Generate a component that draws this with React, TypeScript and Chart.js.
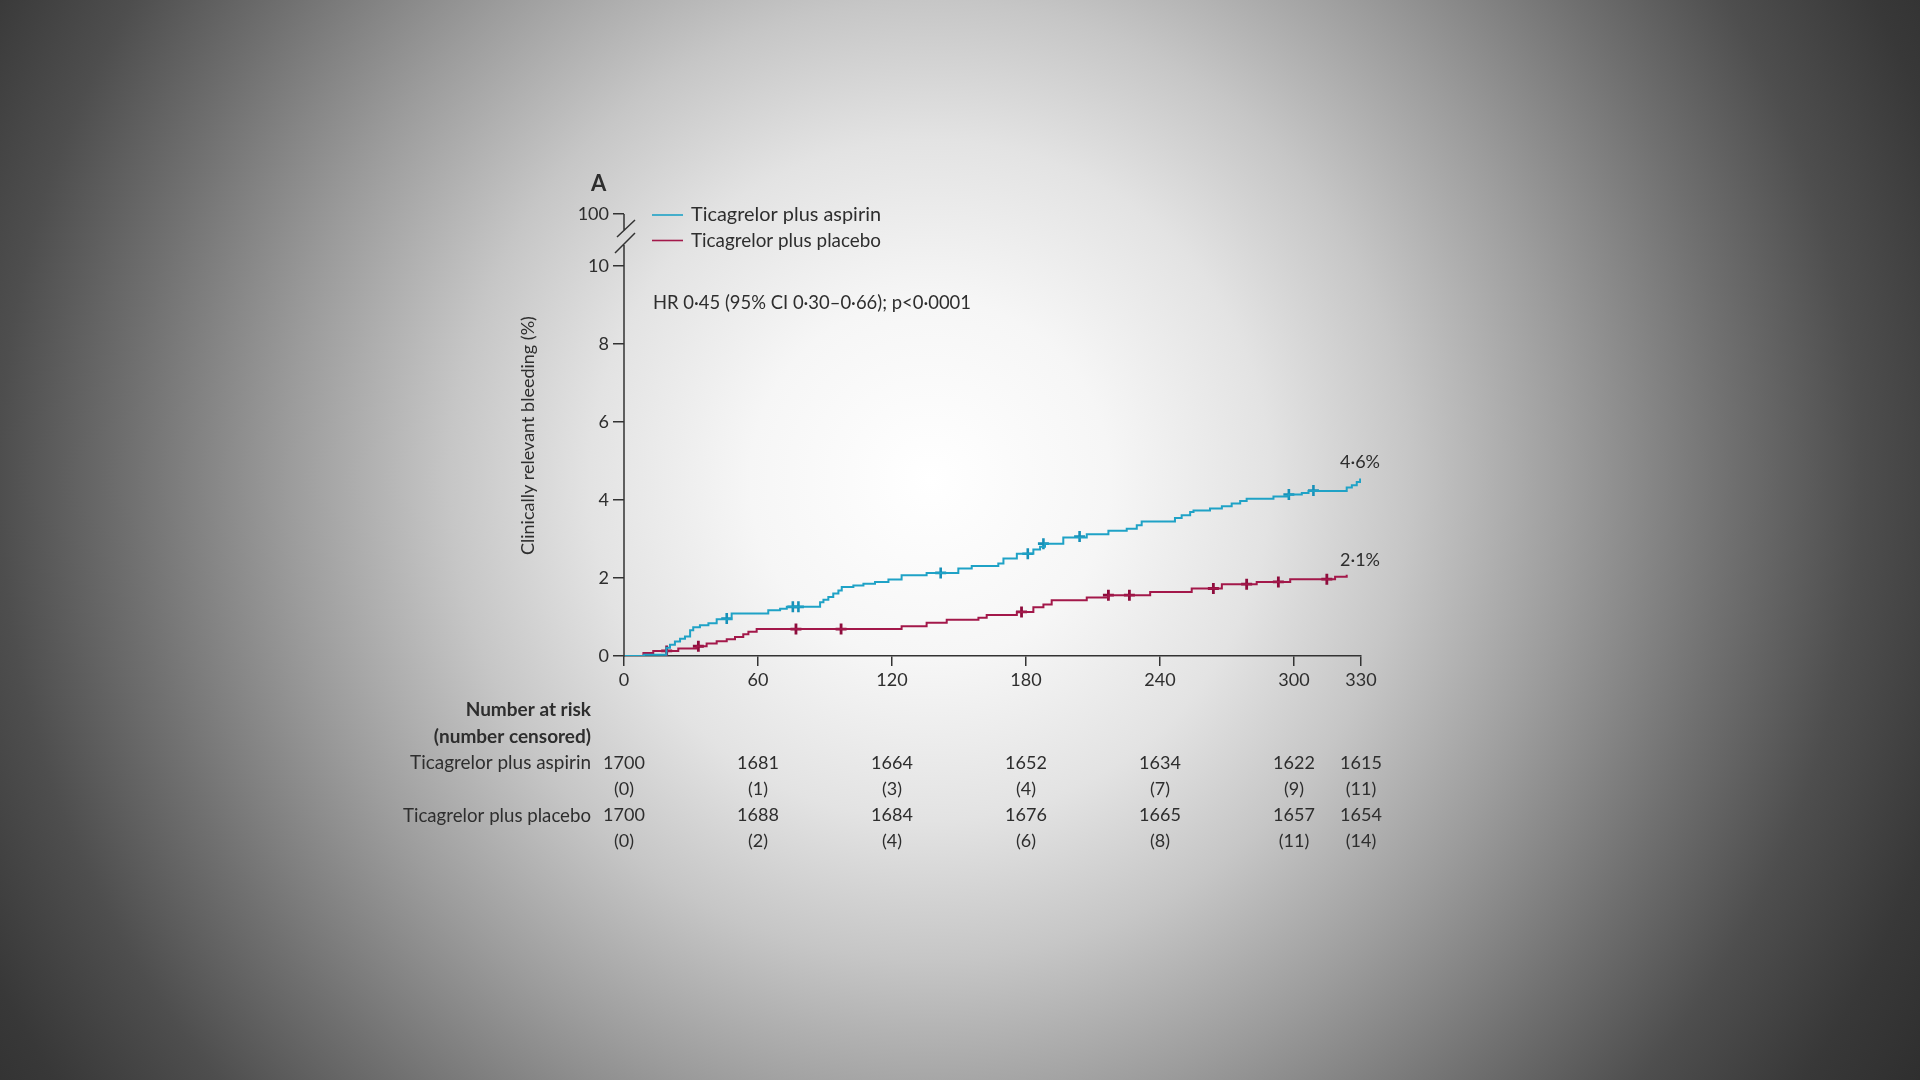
import React, { useEffect, useRef } from "react";
import { Chart, registerables } from "chart.js";

Chart.register(...registerables);

// ---------- data ----------
const xTicks = [0, 60, 120, 180, 240, 300, 330];
const yTicks = [0, 2, 4, 6, 8, 10];
const yBreakValue = 11.33; // where the "100" tick sits above the axis break
const yBreakLabel = "100";

const seriesNames = ["Ticagrelor plus aspirin", "Ticagrelor plus placebo"];

const aspirinDays = [0, 9, 19, 20.6, 22.8, 25.1, 27.3, 29.6, 31, 34, 37.8, 41.5, 48.2, 64.6, 69.9, 72.9, 87.8, 89.3, 91.5, 93.7, 96, 97.5, 102.7, 107.2, 112.4, 118.4, 124.3, 135.5, 149.7, 155.7, 167.6, 169.9, 175.9, 183.3, 186.3, 188.5, 196.7, 207.2, 216.9, 225.1, 229.6, 231.8, 246.7, 249.7, 253.5, 255, 262.4, 267.7, 272.1, 275.9, 278.8, 290.8, 297.5, 303.5, 306.5, 323.6, 325.9, 328.1, 329.6];
const aspirinPct = [0, 0.03, 0.21, 0.29, 0.37, 0.44, 0.5, 0.66, 0.74, 0.79, 0.84, 0.94, 1.09, 1.17, 1.21, 1.26, 1.38, 1.44, 1.51, 1.6, 1.68, 1.77, 1.81, 1.85, 1.9, 1.96, 2.07, 2.13, 2.24, 2.31, 2.37, 2.5, 2.62, 2.73, 2.8, 2.88, 3.04, 3.12, 3.21, 3.26, 3.35, 3.45, 3.54, 3.61, 3.69, 3.73, 3.78, 3.84, 3.91, 3.97, 4.03, 4.09, 4.14, 4.18, 4.23, 4.32, 4.38, 4.46, 4.55];

const placeboDays = [0, 8.7, 13.1, 24.3, 32.5, 37, 41.5, 46, 49.7, 53.4, 55.7, 59.4, 124.3, 135.5, 144.5, 158.7, 162.4, 175.9, 183.3, 187.8, 191.5, 207.2, 216.9, 235.6, 254.2, 267.7, 283.3, 298.3, 318.4, 323.6];
const placeboPct = [0, 0.08, 0.13, 0.19, 0.25, 0.32, 0.38, 0.43, 0.49, 0.56, 0.62, 0.69, 0.76, 0.85, 0.93, 0.98, 1.05, 1.13, 1.25, 1.32, 1.43, 1.5, 1.56, 1.64, 1.73, 1.84, 1.9, 1.97, 2.03, 2.08];

const aspirinCensorDays = [46, 75.6, 78.1, 141.8, 180.8, 187.8, 204, 297.7, 308.7];
const aspirinCensorPct = [0.96, 1.26, 1.26, 2.13, 2.62, 2.88, 3.06, 4.14, 4.24];

const placeboCensorDays = [19.1, 33.3, 77, 97.2, 178, 216.9, 226.3, 263.9, 278.8, 293, 314.7];
const placeboCensorPct = [0.13, 0.25, 0.69, 0.69, 1.13, 1.56, 1.56, 1.73, 1.84, 1.9, 1.97];

const endLabels = ["4·6%", "2·1%"];
const hrText = "HR 0·45 (95% CI 0·30–0·66); p<0·0001";
const hrLevel = 9.04; // vertical position of the HR annotation, in axis units
const yTitle = "Clinically relevant bleeding (%)";
const panelLabel = "A";

const riskTitle = ["Number at risk", "(number censored)"];
const aspirinAtRisk = [1700, 1681, 1664, 1652, 1634, 1622, 1615];
const aspirinCensored = [0, 1, 3, 4, 7, 9, 11];
const placeboAtRisk = [1700, 1688, 1684, 1676, 1665, 1657, 1654];
const placeboCensored = [0, 2, 4, 6, 8, 11, 14];

// ---------- style ----------
const CYAN = "#1fa2c6";
const CYAN_MARK = "#1690b8";
const RED = "#a3184a";
const RED_MARK = "#8e0c3c";
const INK = "#2e2e2e";
const AXIS = "#333333";
const FONT = "Lato, 'DejaVu Sans', sans-serif";

const toPts = (xs: number[], ys: number[]) => xs.map((x, i) => ({ x, y: ys[i] }));

const overlayPlugin = {
  id: "overlay",
  afterDraw(chart: any) {
    const ctx: CanvasRenderingContext2D = chart.ctx;
    const xs = chart.scales.x;
    const ys = chart.scales.y;
    const x0 = xs.getPixelForValue(0);
    const yZero = ys.getPixelForValue(0);
    const y10 = ys.getPixelForValue(10);
    const yTop = ys.getPixelForValue(yBreakValue);
    ctx.save();

    // y axis with break
    ctx.strokeStyle = AXIS;
    ctx.lineWidth = 1.5;
    ctx.beginPath();
    ctx.moveTo(x0, yZero + 0.75);
    ctx.lineTo(x0, y10 - 21);
    ctx.moveTo(x0, yTop);
    ctx.lineTo(x0, yTop + 17);
    ctx.moveTo(x0 - 7, yTop + 23);
    ctx.lineTo(x0 + 11, yTop + 6);
    ctx.moveTo(x0 - 9, yTop + 39);
    ctx.lineTo(x0 + 11, yTop + 19);
    ctx.stroke();

    ctx.fillStyle = INK;
    ctx.textBaseline = "middle";

    // panel label
    ctx.font = `bold 22px ${FONT}`;
    ctx.textAlign = "left";
    ctx.fillText(panelLabel, x0 - 33, yTop - 30);

    // legend
    const legendColors = [CYAN, RED];
    seriesNames.forEach((name, i) => {
      const ly = yTop + 1 + i * 25.5;
      ctx.strokeStyle = legendColors[i];
      ctx.lineWidth = 1.6;
      ctx.beginPath();
      ctx.moveTo(x0 + 28, ly);
      ctx.lineTo(x0 + 59, ly);
      ctx.stroke();
      ctx.font = `20px ${FONT}`;
      ctx.fillStyle = INK;
      ctx.textAlign = "left";
      ctx.fillText(name, x0 + 67, ly, 190);
    });

    // HR annotation
    ctx.font = `19px ${FONT}`;
    ctx.fillText(hrText, x0 + 29, ys.getPixelForValue(hrLevel), 318);

    // y axis title
    ctx.save();
    ctx.translate(x0 - 96, ys.getPixelForValue(5.65));
    ctx.rotate(-Math.PI / 2);
    ctx.textAlign = "center";
    ctx.font = `18px ${FONT}`;
    ctx.fillText(yTitle, 0, 0, 250);
    ctx.restore();

    // end labels
    ctx.font = `18px ${FONT}`;
    ctx.textAlign = "right";
    const aEnd = aspirinPct[aspirinPct.length - 1];
    const pEnd = placeboPct[placeboPct.length - 1];
    ctx.fillText(endLabels[0], xs.right + 19, ys.getPixelForValue(aEnd) - 16);
    ctx.fillText(endLabels[1], xs.right + 19, ys.getPixelForValue(pEnd) - 15);

    // number at risk table
    const labelRight = x0 - 33;
    const rowY = [710, 736.5, 763, 789.5, 815.5, 841.5];
    ctx.textAlign = "right";
    ctx.font = `bold 19px ${FONT}`;
    ctx.fillText(riskTitle[0], labelRight, rowY[0]);
    ctx.fillText(riskTitle[1], labelRight, rowY[1]);
    ctx.font = `20px ${FONT}`;
    ctx.fillText(seriesNames[0], labelRight, rowY[2], 181);
    ctx.fillText(seriesNames[1], labelRight, rowY[4], 188);
    ctx.textAlign = "center";
    ctx.font = `18px ${FONT}`;
    xTicks.forEach((d, i) => {
      const px = xs.getPixelForValue(d);
      ctx.fillText(String(aspirinAtRisk[i]), px, rowY[2]);
      ctx.fillText(`(${aspirinCensored[i]})`, px, rowY[3]);
      ctx.fillText(String(placeboAtRisk[i]), px, rowY[4]);
      ctx.fillText(`(${placeboCensored[i]})`, px, rowY[5]);
    });

    ctx.restore();
  },
};

export default function App() {
  const ref = useRef<HTMLCanvasElement | null>(null);

  useEffect(() => {
    if (!ref.current) return;
    const chart = new Chart(ref.current, {
      type: "line",
      data: {
        datasets: [
          {
            label: seriesNames[0],
            data: toPts(aspirinDays, aspirinPct),
            borderColor: CYAN,
            borderWidth: 2,
            pointRadius: 0,
            stepped: true,
            fill: false,
          },
          {
            label: seriesNames[1],
            data: toPts(placeboDays, placeboPct),
            borderColor: RED,
            borderWidth: 2,
            pointRadius: 0,
            stepped: true,
            fill: false,
          },
          {
            label: "aspirin censored",
            data: toPts(aspirinCensorDays, aspirinCensorPct),
            showLine: false,
            pointStyle: "cross",
            pointRadius: 5.5,
            pointBorderWidth: 2.6,
            pointBorderColor: CYAN_MARK,
            borderColor: CYAN_MARK,
          },
          {
            label: "placebo censored",
            data: toPts(placeboCensorDays, placeboCensorPct),
            showLine: false,
            pointStyle: "cross",
            pointRadius: 5.5,
            pointBorderWidth: 2.8,
            pointBorderColor: RED_MARK,
            borderColor: RED_MARK,
          },
        ],
      },
      options: {
        responsive: false,
        animation: false,
        events: [],
        layout: { padding: { left: 564, right: 559, top: 214, bottom: 384 } },
        plugins: { legend: { display: false }, tooltip: { enabled: false }, title: { display: false } },
        scales: {
          x: {
            type: "linear",
            min: 0,
            max: 330,
            afterBuildTicks: (s: any) => {
              s.ticks = xTicks.map((v) => ({ value: v }));
            },
            afterFit: (s: any) => {
              s.height = 40;
            },
            grid: { drawOnChartArea: false, drawTicks: true, tickLength: 10, color: AXIS, lineWidth: 1.5 },
            border: { display: true, color: AXIS, width: 1.5 },
            ticks: {
              autoSkip: false,
              maxRotation: 0,
              padding: 3,
              color: INK,
              font: { family: FONT, size: 18 },
            },
          },
          y: {
            type: "linear",
            min: 0,
            max: yBreakValue,
            afterBuildTicks: (s: any) => {
              s.ticks = [...yTicks, yBreakValue].map((v) => ({ value: v }));
            },
            afterFit: (s: any) => {
              s.width = 60;
            },
            grid: { drawOnChartArea: false, drawTicks: true, tickLength: 11, color: AXIS, lineWidth: 1.5 },
            border: { display: false },
            ticks: {
              autoSkip: false,
              padding: 4,
              color: INK,
              font: { family: FONT, size: 18 },
              callback: (v: any) => (v === yBreakValue ? yBreakLabel : String(v)),
            },
          },
        },
      },
      plugins: [overlayPlugin],
    } as any);
    return () => chart.destroy();
  }, []);

  return (
    <div
      style={{
        position: "fixed",
        left: 0,
        top: 0,
        width: 1920,
        height: 1080,
        background:
          "radial-gradient(circle at 930px 480px, #ffffff 0px, #f6f6f6 180px, #e3e3e3 340px, #c6c6c6 480px, #9c9c9c 640px, #707070 800px, #4e4e4e 930px, #383838 1060px, #2b2b2b 1200px)",
      }}
    >
      <canvas ref={ref} width={1920} height={1080} style={{ display: "block" }} />
    </div>
  );
}
